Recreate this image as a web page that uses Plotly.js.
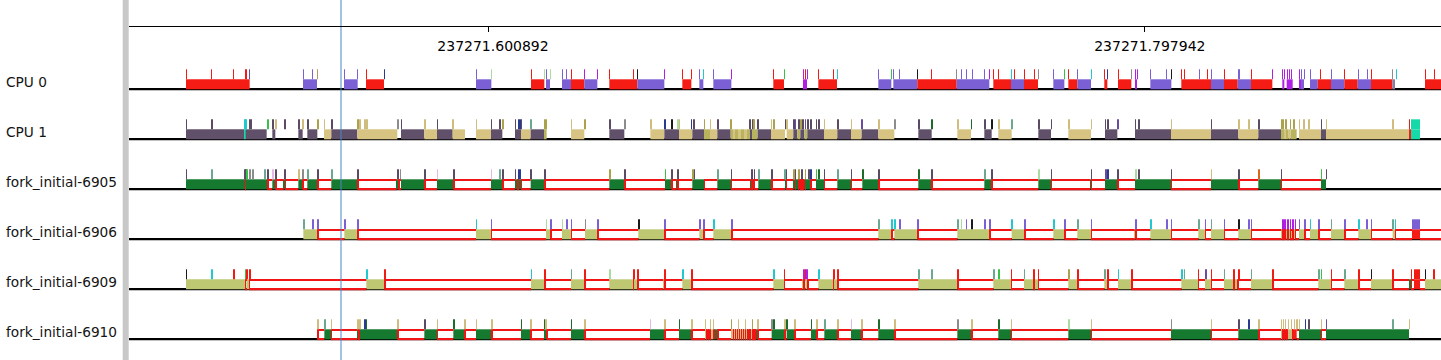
<!DOCTYPE html>
<html><head><meta charset="utf-8">
<script src="https://cdn.plot.ly/plotly-3.0.1.min.js"></script>
<style>html,body{margin:0;padding:0;background:#fff;overflow:hidden}#chart{width:1441px;height:360px}</style>
</head><body><div id="chart"></div>
<script>
// ---------------- DATA (times in ms after timeBase) ----------------
const rowLabels = ["CPU 0", "CPU 1", "fork_initial-6905", "fork_initial-6906", "fork_initial-6909", "fork_initial-6910"];
const timeBase = 237271.493192;            // seconds
const axisTickLabels = ["237271.600892", "237271.797942"];
const viewWindow = [0, 393.6];             // ms after timeBase
const cursorTime = 63.6;                   // ms after timeBase

// CPU rows: [start, end, task]  A=6909, B=6906, C=6905, D=6910, M/G/O/T = other tasks
const cpu0Boxes = [[17.1,36.2,'A'],[52.2,56.4,'B'],[64.5,68.6,'B'],[71.1,76.5,'A'],[104.1,108.7,'B'],[120.6,124.6,'A'],[125.1,126.3,'B'],[129.9,132.6,'B'],[132.6,136.6,'A'],[136.6,140.5,'B'],[144.1,152.5,'A'],[152.5,160.6,'B'],[166.0,168.7,'A'],[171.1,172.3,'B'],[175.3,180.7,'B'],[193.3,196.5,'A'],[202.2,203.4,'M'],[206.8,212.4,'A'],[224.8,228.7,'B'],[229.3,236.5,'B'],[236.5,248.3,'A'],[248.3,258.1,'B'],[259.3,264.6,'A'],[264.6,268.5,'B'],[268.5,272.7,'A'],[277.3,280.6,'B'],[281.8,284.5,'A'],[284.5,288.6,'B'],[292.6,293.5,'A'],[296.7,300.7,'A'],[301.8,302.3,'M'],[306.4,312.7,'B'],[315.7,324.6,'A'],[324.6,328.5,'B'],[328.5,332.6,'A'],[332.6,336.6,'B'],[336.6,343.0,'A'],[346.0,346.6,'M'],[347.3,349.1,'M'],[351.0,351.6,'M'],[351.6,352.5,'B'],[354.3,356.6,'B'],[356.6,360.6,'A'],[360.6,364.6,'B'],[364.6,368.6,'A'],[368.6,372.6,'B'],[372.6,379.0,'A'],[379.0,379.8,'G'],[388.8,393.6,'A']];
const cpu0Ticks = [[17.1,'r'],[24.6,'r'],[31.2,'r'],[35.0,'r'],[36.0,'v'],[52.2,'p'],[54.9,'p'],[56.4,'n'],[64.5,'p'],[68.4,'p'],[71.1,'r'],[76.5,'b'],[104.1,'p'],[108.6,'l'],[120.6,'r'],[124.5,'l'],[125.1,'p'],[126.3,'l'],[129.9,'p'],[131.1,'p'],[132.6,'r'],[136.5,'m'],[140.4,'m'],[144.0,'r'],[151.2,'r'],[152.4,'k'],[160.5,'m'],[165.9,'r'],[168.6,'r'],[171.0,'p'],[172.2,'t'],[175.2,'p'],[180.6,'m'],[193.2,'r'],[196.5,'g'],[202.2,'m'],[202.8,'r'],[203.4,'m'],[206.7,'r'],[211.2,'r'],[212.4,'t'],[224.7,'p'],[228.6,'g'],[229.2,'p'],[231.0,'p'],[236.4,'k'],[240.6,'r'],[248.1,'G'],[249.6,'p'],[251.1,'p'],[252.9,'p'],[256.5,'p'],[258.0,'m'],[259.2,'r'],[260.7,'r'],[264.6,'t'],[265.5,'r'],[268.5,'r'],[271.5,'r'],[272.7,'G'],[277.2,'p'],[280.5,'g'],[281.7,'r'],[284.4,'p'],[288.6,'t'],[292.5,'r'],[293.4,'b'],[296.7,'r'],[300.6,'G'],[301.8,'m'],[302.4,'m'],[306.3,'p'],[311.1,'p'],[312.6,'k'],[315.6,'r'],[316.5,'r'],[321.0,'p'],[323.4,'r'],[324.6,'p'],[328.5,'r'],[332.7,'p'],[333.0,'p'],[336.6,'r'],[342.9,'m'],[345.9,'m'],[346.5,'m'],[347.4,'m'],[348.0,'m'],[348.6,'m'],[351.0,'m'],[351.6,'p'],[352.5,'p'],[354.3,'p'],[357.3,'r'],[360.6,'p'],[364.5,'r'],[368.7,'p'],[371.4,'p'],[372.6,'r'],[378.9,'G'],[380.1,'t'],[388.8,'r'],[391.5,'r']];

const cpu1Boxes = [[17.1,34.6,'C'],[34.6,35.0,'T'],[35.0,41.3,'C'],[43.0,43.9,'C'],[50.8,52.1,'C'],[53.5,56.5,'C'],[58.5,60.7,'D'],[60.7,68.5,'C'],[68.5,80.5,'D'],[81.6,88.6,'C'],[88.6,92.4,'D'],[92.4,97.1,'C'],[97.1,100.8,'D'],[104.1,108.6,'D'],[108.6,112.0,'C'],[115.8,117.6,'C'],[117.6,120.5,'D'],[120.5,124.5,'C'],[124.5,125.3,'O'],[132.6,136.6,'D'],[144.1,148.6,'C'],[156.4,160.6,'D'],[160.6,165.0,'C'],[165.0,169.0,'D'],[169.0,172.5,'C'],[172.5,174.3,'O'],[174.3,176.5,'D'],[176.5,180.5,'C'],[180.5,181.2,'O'],[181.2,181.8,'D'],[181.8,182.7,'O'],[182.7,183.6,'D'],[183.6,184.5,'O'],[184.5,185.4,'D'],[185.4,186.3,'O'],[186.3,186.9,'C'],[186.9,188.6,'O'],[188.6,192.6,'C'],[192.6,196.8,'D'],[197.3,199.3,'D'],[199.3,200.5,'C'],[200.5,201.4,'O'],[201.4,202.6,'C'],[202.6,203.5,'O'],[203.5,208.5,'C'],[208.5,212.5,'D'],[212.5,216.6,'C'],[216.6,219.8,'D'],[219.8,224.8,'C'],[224.8,229.6,'D'],[236.8,240.8,'C'],[248.5,252.6,'D'],[256.6,258.8,'C'],[260.8,264.8,'D'],[272.8,276.6,'C'],[281.8,288.6,'D'],[292.8,296.5,'C'],[301.8,312.6,'C'],[312.6,324.6,'D'],[324.6,332.8,'C'],[332.8,338.8,'D'],[338.8,345.6,'C'],[345.6,346.5,'O'],[346.5,347.1,'D'],[347.1,347.9,'O'],[347.9,348.5,'D'],[348.5,350.3,'O'],[351.0,357.6,'D'],[357.6,359.1,'C'],[359.1,384.0,'D'],[384.0,384.6,'A'],[384.6,387.3,'T']];
const cpu1Ticks = [[17.1,'d'],[24.7,'d'],[34.6,'t'],[35.0,'t'],[36.1,'d'],[36.6,'d'],[41.5,'g'],[43.0,'d'],[43.9,'e'],[46.6,'d'],[50.8,'d'],[52.1,'e'],[53.5,'d'],[56.5,'o'],[58.5,'e'],[60.7,'d'],[68.5,'o'],[69.2,'e'],[70.6,'e'],[71.3,'e'],[80.5,'G'],[81.6,'d'],[88.6,'e'],[92.4,'d'],[97.1,'e'],[104.1,'e'],[108.6,'d'],[111.1,'d'],[112.0,'o'],[115.8,'d'],[116.8,'b'],[117.3,'b'],[117.6,'d'],[120.5,'s'],[124.5,'o'],[125.0,'o'],[132.6,'e'],[136.6,'o'],[144.1,'d'],[148.6,'G'],[156.4,'e'],[160.6,'b'],[162.8,'k'],[164.6,'l'],[165.0,'e'],[168.6,'b'],[169.3,'d'],[172.5,'o'],[174.3,'e'],[176.5,'d'],[180.5,'o'],[186.1,'d'],[187.1,'d'],[187.3,'o'],[188.6,'d'],[192.6,'e'],[193.3,'o'],[196.8,'d'],[197.3,'e'],[199.3,'d'],[199.8,'v'],[200.8,'d'],[201.5,'o'],[202.1,'d'],[202.8,'v'],[203.5,'d'],[204.5,'d'],[206.1,'d'],[206.8,'d'],[208.5,'e'],[212.5,'d'],[216.6,'e'],[219.8,'v'],[224.8,'e'],[229.6,'G'],[236.8,'d'],[240.8,'f'],[248.5,'e'],[252.6,'f'],[256.6,'d'],[258.8,'k'],[260.8,'e'],[264.8,'s'],[272.8,'d'],[276.6,'d'],[281.8,'e'],[288.6,'e'],[292.8,'d'],[293.5,'d'],[296.5,'v'],[301.8,'d'],[302.8,'d'],[312.6,'e'],[324.6,'d'],[332.8,'e'],[335.8,'e'],[338.8,'d'],[345.6,'o'],[346.1,'o'],[347.0,'o'],[348.3,'o'],[349.3,'o'],[351.0,'e'],[352.3,'e'],[353.8,'e'],[357.6,'d'],[359.1,'e'],[379.0,'e'],[384.0,'r'],[384.6,'T',387.3]];

// Task rows: [start, end, state]; no state = running, D = 6910 stripe, A = red state, g = dark green
const task6905Span = [17.1, 359.1];
const task6905Boxes = [[17.1,34.8],[35.0,41.5],[43.0,43.9],[46.4,46.8],[50.8,52.1],[53.5,56.5],[60.7,68.5],[80.3,80.8],[81.6,88.6],[92.4,97.3],[108.6,112.0],[115.8,116.6],[117.0,117.6],[120.5,124.6],[144.1,148.6],[160.8,162.8],[164.3,164.6],[169.0,172.5],[176.5,180.6],[186.5,186.8],[187.1,187.4],[188.8,192.8],[196.8,197.1],[199.3,199.8],[200.0,200.8],[201.0,201.5],[201.7,202.1],[202.3,202.8],[203.0,204.5],[206.1,208.5],[212.5,216.6],[220.0,224.8],[236.8,240.8],[256.6,258.8],[272.8,276.6],[288.3,288.6],[292.8,296.5],[301.8,312.6],[324.6,332.8],[338.8,345.6],[357.6,359.1]];
const task6905Ticks = [[17.1,'d'],[24.7,'s'],[34.6,'d'],[35.0,'d'],[35.3,'g'],[36.1,'G'],[37.0,'G'],[40.6,'s'],[41.6,'d'],[43.1,'w'],[43.9,'d'],[46.6,'d'],[50.8,'e'],[52.1,'G'],[53.5,'s'],[56.5,'d'],[60.7,'s'],[68.5,'d'],[80.6,'d'],[81.3,'G'],[88.6,'d'],[92.4,'w'],[97.3,'d'],[108.6,'w'],[111.1,'s'],[112.0,'d'],[115.8,'d'],[116.8,'b'],[117.3,'b'],[120.5,'d'],[124.6,'d'],[144.1,'o'],[148.6,'d'],[160.8,'g'],[162.8,'d'],[164.6,'d'],[169.0,'o'],[169.5,'d'],[176.5,'s'],[180.6,'d'],[186.8,'d'],[187.5,'d'],[188.8,'s'],[192.8,'d'],[196.6,'s'],[197.1,'d'],[199.3,'o'],[199.8,'d'],[200.8,'o'],[201.8,'d'],[202.8,'o'],[203.8,'d'],[204.5,'b'],[206.1,'g'],[206.8,'f'],[208.5,'d'],[212.5,'s'],[216.6,'d'],[220.0,'f'],[224.8,'d'],[236.8,'f'],[240.8,'d'],[256.6,'s'],[258.8,'d'],[272.8,'l'],[276.6,'d'],[288.6,'d'],[293.0,'v'],[293.5,'b'],[296.5,'d'],[302.0,'l'],[302.8,'d'],[312.6,'d'],[324.6,'e'],[332.8,'d'],[338.8,'x'],[345.6,'d'],[357.6,'g'],[359.1,'d']];

const task6906Span = [52.3, 394.0];
const task6906Boxes = [[52.3,56.5],[64.6,68.5],[104.1,108.6],[125.1,126.4],[129.9,132.6],[136.8,140.5],[152.8,160.6],[171.1,172.3],[175.3,180.7],[224.8,228.7],[229.6,236.5],[248.5,258.1],[264.8,268.6],[277.3,280.6],[284.5,288.6],[301.7,302.0],[306.4,312.6],[320.8,322.8],[324.6,328.5],[332.8,336.6],[345.7,346.0],[346.4,346.7],[347.2,347.5],[348.0,348.3],[348.7,349.0],[349.5,349.8],[351.0,352.6],[354.3,356.8],[360.6,364.6],[368.8,372.6],[379.1,379.8],[384.9,387.3,'A']];
const task6906Ticks = [[52.3,'s'],[55.0,'p'],[56.5,'p'],[64.6,'p'],[68.5,'p'],[104.1,'t'],[108.6,'p'],[125.1,'l'],[126.4,'p'],[129.9,'l'],[131.2,'p'],[132.6,'p'],[136.8,'G'],[140.5,'p'],[152.8,'k'],[160.6,'p'],[171.1,'p'],[172.3,'p'],[175.3,'t'],[180.7,'p'],[224.8,'s'],[228.7,'t'],[229.6,'t'],[231.1,'p'],[236.5,'p'],[248.5,'s'],[249.6,'l'],[251.1,'p'],[252.8,'k'],[256.6,'p'],[258.1,'p'],[264.8,'t'],[268.6,'p'],[277.3,'t'],[280.6,'p'],[284.5,'s'],[288.6,'p'],[302.0,'p'],[306.4,'t'],[311.2,'p'],[312.6,'p'],[320.8,'s'],[322.8,'p'],[324.6,'s'],[328.5,'p'],[332.8,'k'],[335.8,'p'],[336.6,'p'],[346.0,'m'],[346.7,'m'],[347.5,'m'],[348.3,'m'],[349.0,'m'],[349.8,'m'],[351.0,'p'],[352.6,'p'],[354.3,'t'],[356.8,'p'],[360.6,'s'],[364.6,'p'],[368.8,'t'],[371.3,'p'],[372.6,'p'],[379.1,'s'],[379.8,'t'],[384.9,'p',387.3]];

const task6909Span = [17.1, 394.5];
const task6909Boxes = [[17.1,34.8],[35.2,36.0],[71.2,76.6],[120.6,124.6],[132.6,136.6],[144.1,151.2],[151.5,152.5],[160.3,160.6],[166.0,168.7],[193.3,196.5],[202.0,202.3],[202.9,203.5],[206.8,211.2],[211.5,212.5],[236.8,248.5],[259.3,264.6],[268.5,271.3],[271.6,272.7],[281.8,284.5],[292.6,293.5],[296.7,300.7],[315.7,320.7],[322.8,324.6],[328.5,331.3],[331.6,332.6],[336.6,343.0],[356.8,360.6],[364.6,368.8],[372.6,379.0],[384.0,384.6,'g'],[385.5,387.3,'A'],[388.8,394.5]];
const task6909Ticks = [[17.1,'k'],[24.7,'t'],[31.3,'r'],[34.8,'g'],[35.3,'r'],[36.1,'r'],[71.2,'t'],[76.6,'r'],[120.6,'t'],[124.6,'r'],[132.6,'s'],[136.6,'r'],[144.1,'l'],[151.3,'r'],[152.5,'r'],[160.6,'r'],[166.0,'t'],[168.7,'r'],[193.3,'t'],[196.5,'r'],[202.3,'m'],[202.8,'r'],[203.3,'m'],[206.8,'t'],[211.3,'r'],[212.5,'r'],[236.8,'s'],[240.7,'s'],[248.5,'r'],[259.3,'s'],[260.8,'g'],[264.6,'r'],[268.5,'s'],[271.3,'r'],[272.7,'r'],[281.8,'o'],[284.5,'r'],[292.6,'s'],[293.5,'r'],[296.7,'t'],[300.7,'r'],[315.7,'t'],[316.5,'s'],[320.7,'r'],[323.0,'v'],[324.6,'r'],[328.5,'s'],[331.3,'r'],[332.8,'r'],[336.6,'s'],[343.0,'r'],[356.8,'s'],[357.6,'g'],[360.6,'r'],[364.6,'s'],[368.8,'r'],[372.6,'k'],[379.0,'r'],[384.6,'r'],[385.5,'r',387.3],[388.8,'k'],[391.3,'r']];

const task6910Span = [56.5, 384.0];
const task6910Boxes = [[58.6,60.6],[68.5,68.9],[69.1,80.5],[88.6,92.4],[97.3,100.6],[104.1,108.7],[117.6,120.4],[124.5,125.3],[132.6,136.6],[156.3,160.6],[165.0,168.7],[172.8,173.2,'D'],[173.4,173.8,'D'],[174.0,174.3,'D'],[174.6,175.3,'D'],[175.3,176.5],[180.6,181.2,'D'],[181.4,181.8,'D'],[182.0,182.4,'D'],[182.6,183.0,'D'],[183.2,183.6,'D'],[183.8,184.2,'D'],[184.4,184.8,'D'],[185.0,185.5,'D'],[185.7,186.2,'D'],[186.5,187.0,'D'],[187.3,187.7,'D'],[187.9,188.6],[192.8,196.6],[197.3,199.6],[204.6,206.3],[208.6,212.5],[216.6,219.8],[224.8,229.6],[248.5,252.8],[260.8,264.6],[281.8,288.6],[312.6,324.6],[332.8,338.8],[345.6,346.0,'D'],[346.2,346.6,'D'],[346.8,347.2,'D'],[347.4,348.9,'D'],[349.2,350.3,'A'],[351.0,357.6],[359.1,384.0]];
const task6910Ticks = [[56.5,'e'],[58.6,'s'],[60.6,'e'],[68.5,'e'],[69.2,'e'],[70.6,'b'],[71.1,'f'],[80.5,'e'],[88.6,'d'],[92.4,'e'],[97.3,'f'],[100.6,'e'],[104.1,'e'],[108.7,'e'],[117.6,'f'],[120.4,'e'],[124.5,'f'],[125.0,'e'],[132.6,'f'],[136.6,'e'],[156.3,'w'],[160.6,'e'],[165.0,'f'],[168.7,'e'],[172.8,'e'],[174.3,'e'],[175.2,'e'],[180.6,'o'],[182.7,'e'],[184.8,'e'],[186.9,'o'],[188.6,'e'],[192.8,'G'],[193.3,'f'],[196.6,'e'],[197.3,'f'],[199.6,'e'],[204.6,'f'],[206.3,'e'],[208.6,'s'],[212.5,'e'],[216.6,'w'],[219.8,'e'],[224.8,'f'],[229.6,'e'],[248.5,'G'],[252.8,'e'],[260.8,'f'],[264.6,'e'],[281.8,'l'],[288.6,'e'],[312.6,'G'],[324.6,'e'],[332.8,'d'],[335.8,'b'],[338.8,'e'],[345.6,'e'],[346.2,'e'],[346.8,'e'],[347.7,'e'],[348.6,'e'],[349.5,'e'],[350.3,'e'],[351.0,'e'],[352.8,'b'],[353.8,'d'],[357.6,'e'],[359.1,'v'],[379.0,'s'],[384.0,'e']];

// ---------------- STYLE ----------------
const cpuTaskColor = {A:'#f41c14', B:'#7b5fd4', C:'#615069', D:'#d7c483', M:'#b01fe6', G:'#8a7ba0', O:'#b7b35f', T:'#16d9a9'};
const tickColor = {r:'#f01c14', p:'#7b5fd4', m:'#b020e0', t:'#22c8d0', g:'#38c048', l:'#a8dca0', k:'#1a1a1a', d:'#5b4a64', n:'#b09868', b:'#2a3a90', G:'#8c8c8c', s:'#6aa890', e:'#cfbd80', o:'#aaa24c', w:'#e6b8e6', f:'#1d6b2b', x:'#d8681e', v:'#6a4c9c', T:'#16d9a9'};
const stateColor = {D:'#d0bb7c', A:'#f41c14', g:'#157a2f'};
const runColorGreen = '#157a2f', runColorOlive = '#bec873';
const RED = '#f01414';
const PX = 0.3; // ms per pixel (approx, for 1-px marks)

const rows = [
  {boxes: cpu0Boxes, ticks: cpu0Ticks, cpu: true},
  {boxes: cpu1Boxes, ticks: cpu1Ticks, cpu: true},
  {boxes: task6905Boxes, ticks: task6905Ticks, span: task6905Span, run: runColorGreen},
  {boxes: task6906Boxes, ticks: task6906Ticks, span: task6906Span, run: runColorOlive},
  {boxes: task6909Boxes, ticks: task6909Ticks, span: task6909Span, run: runColorOlive},
  {boxes: task6910Boxes, ticks: task6910Ticks, span: task6910Span, run: runColorGreen}
];

function layer() { return {base: [], x: [], y: [], w: [], c: []}; }
function add(L, s, e, y, w, c) { L.base.push(s); L.x.push(e - s); L.y.push(y); L.w.push(w); L.c.push(c); }
const Lbase = layer(), Lbox = layer(), Lred = layer(), Lvert = layer(), Ltick = layer();

rows.forEach((row, i) => {
  add(Lbase, viewWindow[0], viewWindow[1], i + 0.004, 0.026, '#000');
  row.boxes.forEach(b => {
    const col = row.cpu ? cpuTaskColor[b[2]] : (b[2] ? stateColor[b[2]] : row.run);
    add(Lbox, b[0], b[1], i - 0.1, 0.2, col);
  });
  if (!row.cpu) {
    const sorted = row.boxes.slice().sort((a, b) => a[0] - b[0]);
    let cur = row.span[0];
    const gaps = [];
    sorted.forEach(b => { if (b[0] > cur + 0.05) gaps.push([cur, b[0]]); cur = Math.max(cur, b[1]); });
    if (row.span[1] > cur + 0.05) gaps.push([cur, row.span[1]]);
    gaps.forEach(g => {
      add(Lred, g[0], g[1], i - 0.2 + 0.011, 0.022, RED);
      add(Lred, g[0], g[1], i + 0.004, 0.026, RED);
    });
    if (sorted[0][0] > row.span[0] + 0.05) add(Lvert, row.span[0], row.span[0] + PX, i - 0.1, 0.2, RED);
    sorted.forEach(b => {
      if (b[2] !== 'A' && b[1] < row.span[1] - 0.05) add(Lvert, b[1], b[1] + PX, i - 0.1, 0.2, RED);
    });
  }
  row.ticks.forEach(t => {
    const end = t.length > 2 ? t[2] : t[0] + PX;
    add(Ltick, t[0], end, i - 0.3, 0.2, tickColor[t[1]]);
  });
});

function barTrace(L) {
  return {type: 'bar', orientation: 'h', base: L.base, x: L.x, y: L.y, width: L.w,
    marker: {color: L.c, line: {width: 0}}, hoverinfo: 'skip', showlegend: false};
}

const yTop = -89.3 / 50, yBottom = (360 - 89.3) / 50;
const traces = [barTrace(Lbase), barTrace(Lbox), barTrace(Lred), barTrace(Lvert), barTrace(Ltick),
  {type: 'scatter', mode: 'lines', x: [cursorTime, cursorTime], y: [yTop, yBottom],
   line: {color: '#4a86c8', width: 1}, hoverinfo: 'skip', showlegend: false}];

const plotW = 1312;
const annotations = rowLabels.map((lab, i) => ({
  text: lab, xref: 'paper', yref: 'y', x: (4 - 129) / plotW, y: i - 0.146,
  xanchor: 'left', yanchor: 'middle', showarrow: false,
  font: {family: 'DejaVu Sans', size: 13.7, color: '#141414'}
}));

const layout = {
  width: 1441, height: 360,
  margin: {l: 129, r: 0, t: 0, b: 0},
  paper_bgcolor: '#fff', plot_bgcolor: '#fff',
  barmode: 'overlay',
  showlegend: false,
  xaxis: {
    range: viewWindow, anchor: 'free', position: 1 - 26 / 360, side: 'top',
    showline: true, linecolor: '#000', linewidth: 1,
    ticks: 'inside', ticklen: 5, tickwidth: 1, tickcolor: '#000',
    tickvals: axisTickLabels.map(s => Math.round((parseFloat(s) - timeBase) * 1e6) / 1e3),
    ticktext: axisTickLabels,
    ticklabelposition: 'inside',
    ticklabelstandoff: 9,
    ticklabelshift: 5,
    tickfont: {family: 'DejaVu Sans', size: 14, color: '#000'},
    showgrid: false, zeroline: false, fixedrange: true
  },
  yaxis: {range: [yBottom, yTop], visible: false, fixedrange: true},
  shapes: [{type: 'rect', xref: 'paper', yref: 'paper', x0: (122.7 - 129) / plotW, x1: (128.7 - 129) / plotW,
    y0: 0, y1: 1, fillcolor: '#c8c8c8', line: {width: 0}}],
  annotations: annotations
};

Plotly.newPlot('chart', traces, layout, {displayModeBar: false});
</script>
</body></html>
